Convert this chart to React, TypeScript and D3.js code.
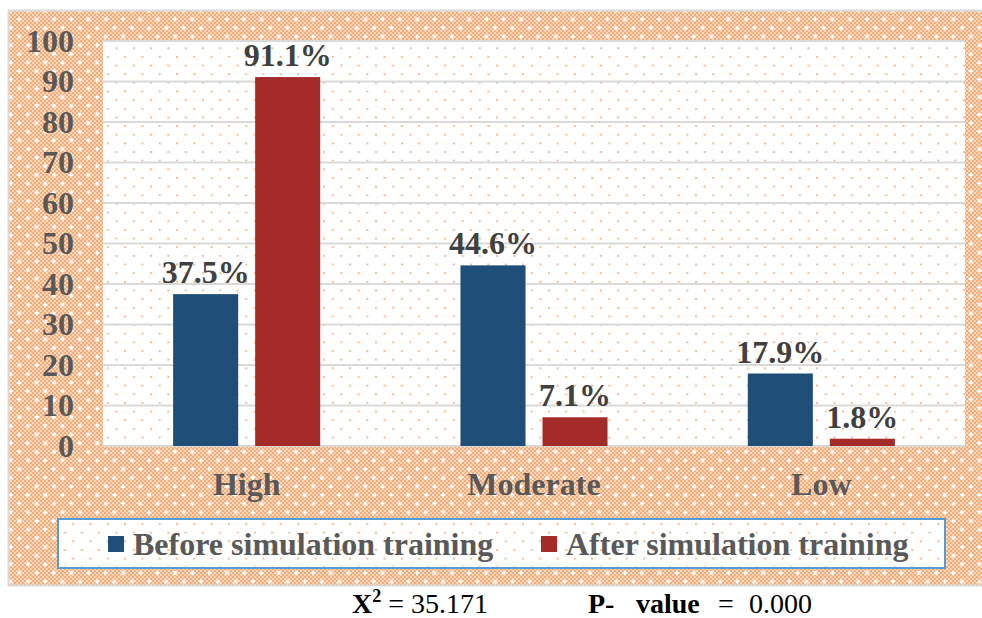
import React from "react";
import * as d3 from "d3";

const categories = ["High", "Moderate", "Low"];
const seriesNames = ["Before simulation training", "After simulation training"];
const beforeValues = [37.5, 44.6, 17.9];
const afterValues = [91.1, 7.1, 1.8];
const yTicks = [0, 10, 20, 30, 40, 50, 60, 70, 80, 90, 100];
const colors = ["#1f4e79", "#a52a2a"];

const W = 982;
const H = 618;
const plot = { left: 103, right: 965, top: 41, bottom: 446 };
const FONT = "'Liberation Serif', 'Times New Roman', serif";
const FS = 32;

export default function App() {
  const x0 = d3.scaleBand<string>().domain(categories).range([plot.left, plot.right]).paddingInner(0).paddingOuter(0);
  const x1 = d3
    .scaleBand<string>()
    .domain(seriesNames)
    .range([0, x0.bandwidth()])
    .paddingInner(0.207)
    .paddingOuter(0.855);
  const y = d3.scaleLinear().domain([0, 100]).range([plot.bottom, plot.top]);
  const series = [beforeValues, afterValues];

  return (
    <svg
      width={W}
      height={H}
      style={{ position: "absolute", left: 0, top: 0, display: "block", background: "#fff" }}
    >
      <defs>
        <pattern id="checker" width={4} height={4} patternUnits="userSpaceOnUse">
          <rect width={4} height={4} fill="#fbd8be" />
          <rect x={0} y={0} width={2} height={2} fill="#f3ab78" />
          <rect x={2} y={2} width={2} height={2} fill="#f3ab78" />
        </pattern>
        <pattern id="whitedots" width={17.3} height={17.3} patternUnits="userSpaceOnUse">
          <rect x={1} y={0} width={2} height={4} fill="#fff" />
          <rect x={0} y={1} width={4} height={2} fill="#fff" />
          <rect x={9.65} y={8.65} width={2} height={4} fill="#fff" />
          <rect x={8.65} y={9.65} width={4} height={2} fill="#fff" />
        </pattern>
        <pattern id="orangedots" x={3} y={4} width={17.3} height={17.3} patternUnits="userSpaceOnUse">
          <rect width={17.3} height={17.3} fill="#fff" />
          <rect x={0} y={0} width={2} height={2} fill="#f6be96" />
          <rect x={8.65} y={8.65} width={2} height={2} fill="#f6be96" />
        </pattern>
      </defs>

      {/* outer chart area */}
      <rect x={8} y={10} width={980} height={575} fill="url(#checker)" />
      <rect x={8} y={10} width={980} height={575} fill="url(#whitedots)" />
      <rect x={8.5} y={10.5} width={980} height={575} fill="none" stroke="#d9d9d9" strokeWidth={2} />

      {/* plot area */}
      <rect x={plot.left} y={plot.top} width={plot.right - plot.left} height={plot.bottom - plot.top} fill="url(#orangedots)" />

      {/* gridlines */}
      {yTicks.map((t) => (
        <line key={t} x1={plot.left} x2={plot.right} y1={y(t)} y2={y(t)} stroke="#d9d9d9" strokeWidth={2} />
      ))}

      {/* y tick labels */}
      {yTicks.map((t) => (
        <text
          key={"l" + t}
          x={74}
          y={y(t)}
          dy="0.34em"
          textAnchor="end"
          fontFamily={FONT}
          fontWeight="bold"
          fontSize={FS}
          fill="#595959"
        >
          {t}
        </text>
      ))}

      {/* bars */}
      {categories.map((c, ci) =>
        seriesNames.map((s, si) => {
          const v = series[si][ci];
          const bx = (x0(c) as number) + (x1(s) as number);
          return (
            <g key={c + s}>
              <rect x={bx} y={y(v)} width={x1.bandwidth()} height={y(0) - y(v)} fill={colors[si]} />
              <text
                x={bx + x1.bandwidth() / 2}
                y={y(v) - 11}
                textAnchor="middle"
                fontFamily={FONT}
                fontWeight="bold"
                fontSize={FS}
                fill="#404040"
              >
                {v.toFixed(1) + "%"}
              </text>
            </g>
          );
        })
      )}

      {/* category labels */}
      {categories.map((c) => (
        <text
          key={"c" + c}
          x={(x0(c) as number) + x0.bandwidth() / 2}
          y={495}
          textAnchor="middle"
          fontFamily={FONT}
          fontWeight="bold"
          fontSize={FS}
          fill="#595959"
        >
          {c}
        </text>
      ))}

      {/* legend */}
      <rect x={58} y={519} width={887} height={49} fill="url(#orangedots)" stroke="#5b9bd5" strokeWidth={2} />
      {seriesNames.map((s, i) => {
        const lx = i === 0 ? 108 : 541;
        return (
          <g key={"lg" + s}>
            <rect x={lx} y={536} width={16} height={16} fill={colors[i]} />
            <text x={lx + 25} y={555} fontFamily={FONT} fontWeight="bold" fontSize={FS} fill="#595959">
              {s}
            </text>
          </g>
        );
      })}

      {/* statistics footer */}
      <text x={352} y={613} fontFamily={FONT} fontSize={28} fill="#000">
        <tspan fontWeight="bold">X</tspan>
        <tspan fontWeight="bold" fontSize={18} dy={-11}>2</tspan>
        <tspan dy={11}> = 35.171</tspan>
      </text>
      <text x={588} y={613} fontFamily={FONT} fontSize={28} fill="#000">
        <tspan fontWeight="bold">P-</tspan>
        <tspan fontWeight="bold" x={636}>value</tspan>
        <tspan x={718}>=</tspan>
        <tspan x={749}>0.000</tspan>
      </text>
    </svg>
  );
}
